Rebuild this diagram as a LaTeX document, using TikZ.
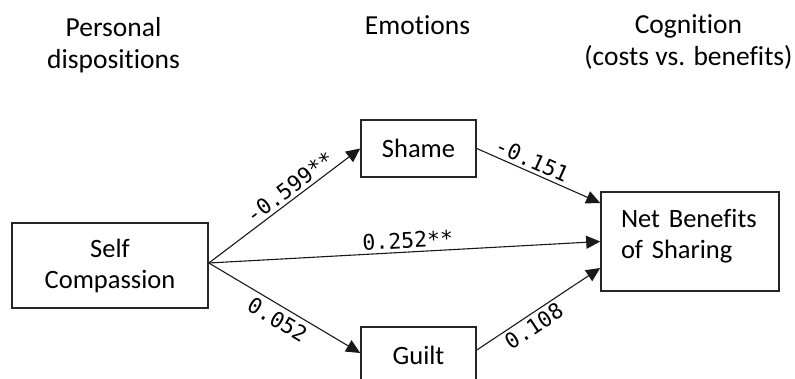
\documentclass[tikz,border=0pt]{standalone}
\usepackage{fontspec}
\setmainfont{Carlito}[Ligatures=NoCommon]
\newfontfamily\labfont{DejaVu Sans Mono}
\usetikzlibrary{arrows.meta}
\begin{document}
\begin{tikzpicture}[x=1pt,y=-1pt,
  box/.style={draw=black!85, line width=1.6pt, inner sep=0pt, align=center, font=\fontsize{26.5}{31}\selectfont},
  plain/.style={inner sep=0pt, align=center, font=\fontsize{26.5}{31}\selectfont},
  head/.style={align=center, inner sep=0pt, font=\fontsize{27.5}{32}\selectfont},
  arr/.style={-{Triangle[length=14pt,width=13pt]}, line width=1.1pt, draw=black!90},
  lab/.style={font=\labfont\fontsize{21.5}{24}\selectfont, sloped, inner sep=3pt}]
\useasboundingbox (0,0) rectangle (795,379);
% headers
\node[head] (h1) at (113.5,45) {Personal\\dispositions};
\node[head, anchor=base] (h2) at (417.5,35) {Emotions};
\node[head] (h3) at (688.5,42) {Cognition\\(costs vs. benefits)};
% boxes
\node[box, minimum width=196pt, minimum height=85pt] (sc) at (110,265.5) {Self\\Compassion};
\node[box, minimum width=115pt, minimum height=57pt] (sh) at (418.5,148.5) {Shame};
\node[box, minimum width=115pt, minimum height=57pt] (gu) at (418.5,355.5) {Guilt};
\node[box, minimum width=178pt, minimum height=99pt] (nb) at (690,241.5) {};
\node[plain, text width=138pt, align=left] (nbt) at (690,236) {Net Benefits\\of Sharing};
% origin
\coordinate (o) at ([yshift=2.5pt]sc.east);
% arrows
\draw[arr] (o) -- (sh.west) node[lab, above, pos=0.58] (l1) {-0.599**};
\draw[arr] (o) -- (nb.west) node[lab, above, pos=0.51] (l2) {0.252**};
\draw[arr] (o) -- ([yshift=2.5pt]gu.west) node[lab, below, pos=0.5, inner sep=5pt] (l3) {0.052};
\draw[arr] (sh.east) -- ([yshift=38.5pt]nb.west) node[lab, above, pos=0.41] (l4) {-0.151};
\draw[arr] ([yshift=5.5pt]gu.east) -- ([yshift=-26.5pt]nb.west) node[lab, below, pos=0.41] (l5) {0.108};
\end{tikzpicture}
\end{document}
